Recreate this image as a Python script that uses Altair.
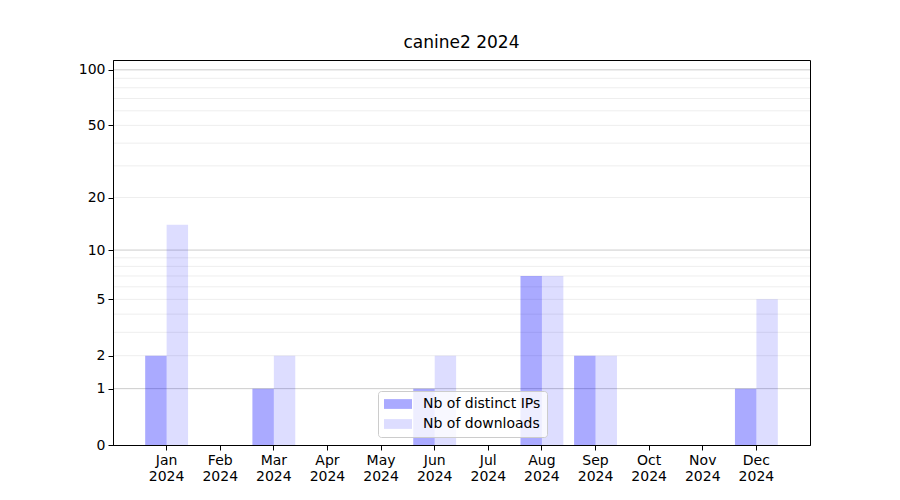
import altair as alt
import pandas as pd

months = ["Jan", "Feb", "Mar", "Apr", "May", "Jun", "Jul", "Aug", "Sep", "Oct", "Nov", "Dec"]
distinct_ips = [2, 0, 1, 0, 0, 1, 0, 7, 2, 0, 0, 1]
downloads = [14, 0, 2, 0, 0, 2, 0, 7, 2, 0, 0, 5]
series_names = ["Nb of distinct IPs", "Nb of downloads"]
y_ticks = [0, 1, 2, 5, 10, 20, 50, 100]
major_grid = [1, 10, 100]
minor_grid = [2, 3, 4, 5, 6, 7, 8, 9, 20, 30, 40, 50, 60, 70, 80, 90]

rows = []
for m, a, b in zip(months, distinct_ips, downloads):
    rows.append({"month": m, "series": series_names[0], "value": a})
    rows.append({"month": m, "series": series_names[1], "value": b})
df = pd.DataFrame(rows)

grid_df = pd.DataFrame(
    [{"v": v, "kind": "major"} for v in major_grid] + [{"v": v, "kind": "minor"} for v in minor_grid]
)

FONT = "DejaVu Sans"
yscale = alt.Scale(type="symlog", constant=1, domain=[0, 113], nice=False)
yaxis = alt.Axis(
    title=None, values=y_ticks, grid=False, labelFontSize=14, labelFont=FONT,
    labelColor="black", tickColor="black", domainColor="black", tickSize=5, labelPadding=3, zindex=1,
)

grid = alt.Chart(grid_df).mark_rule(strokeWidth=1).encode(
    y=alt.Y("v:Q", scale=yscale, axis=yaxis),
    color=alt.Color("kind:N", scale=alt.Scale(domain=["major", "minor"], range=["#cccccc", "#eeeeee"]), legend=None),
)

bars = alt.Chart(df).mark_bar(color="#0000ff").encode(
    x=alt.X(
        "month:N",
        sort=months,
        scale=alt.Scale(paddingInner=0.2, paddingOuter=0.6),
        axis=alt.Axis(
            title=None, labelAngle=0, labelExpr="[datum.label, '2024']", labelFontSize=14,
            labelFont=FONT, labelColor="black", tickColor="black", domainColor="black",
            tickSize=5, labelPadding=3, labelLineHeight=16, grid=False, zindex=1,
        ),
    ),
    xOffset=alt.XOffset("series:N", sort=series_names, scale=alt.Scale(paddingInner=0, paddingOuter=0)),
    y=alt.Y("value:Q", scale=yscale, axis=yaxis),
    opacity=alt.Opacity(
        "series:N",
        sort=series_names,
        scale=alt.Scale(domain=series_names, range=[0.333, 0.133]),
        legend=alt.Legend(
            title=None, orient="none", legendX=265, legendY=331,
            fillColor="rgba(255,255,255,0.8)", strokeColor="#cccccc", cornerRadius=3, padding=6,
            symbolType="M-2,-0.7H2V0.7H-2Z", symbolSize=196, symbolFillColor="#0000ff",
            symbolStrokeWidth=0, labelFontSize=14, labelFont=FONT, labelColor="black",
            rowPadding=6, labelOffset=18, symbolOffset=7,
        ),
    ),
)

chart = alt.layer(grid, bars).resolve_scale(color="independent").properties(
    width=697,
    height=385,
    title=alt.TitleParams("canine2 2024", fontSize=17, font=FONT, fontWeight="normal", color="black", offset=8),
    autosize=alt.AutoSizeParams(type="none"),
    padding={"left": 105, "top": 52, "right": 60, "bottom": 50},
).configure_view(stroke="black", strokeWidth=1)

chart.save("out.html", embed_options={"renderer": "svg", "actions": False})
